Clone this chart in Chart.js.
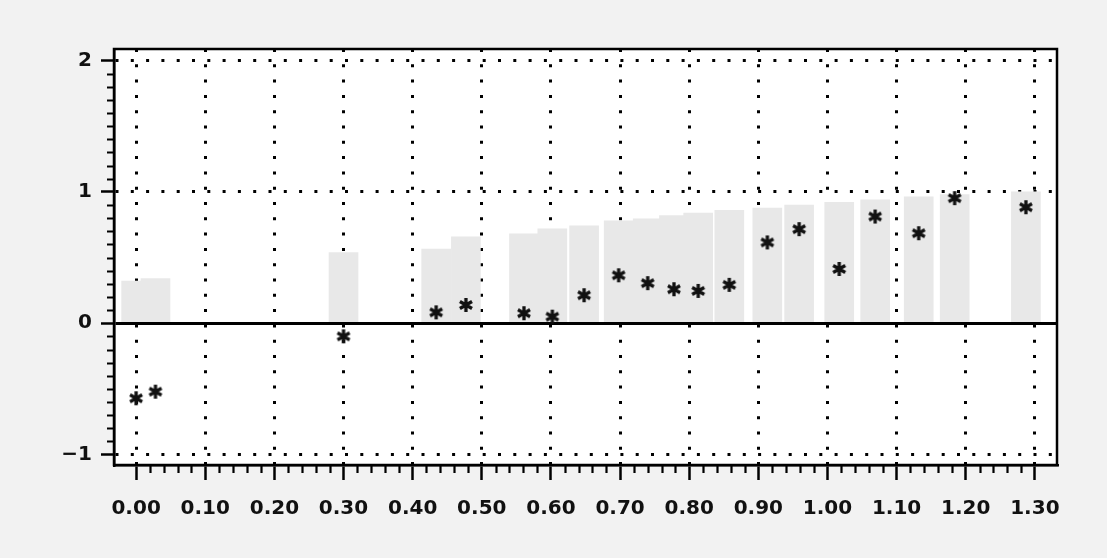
<!DOCTYPE html>
<html>
<head>
<meta charset="utf-8">
<script src="https://cdn.jsdelivr.net/npm/chart.js@4.4.1/dist/chart.umd.min.js"></script>
<style>
  html, body { margin: 0; padding: 0; background: #f2f2f2; }
  #wrap { width: 1107px; height: 558px; position: relative; }
</style>
</head>
<body>
<div id="wrap"><canvas id="chart"></canvas></div>
<script>
// positions on the x axis (one bar and one star per position)
const positions = [0.000, 0.028, 0.300, 0.434, 0.477, 0.561, 0.602, 0.648, 0.698, 0.740,
                   0.778, 0.813, 0.858, 0.913, 0.959, 1.017, 1.069, 1.132, 1.184, 1.287];
// grey bars
const barValues = [0.32, 0.34, 0.538, 0.564, 0.657, 0.68, 0.718, 0.741, 0.779, 0.794,
                   0.82, 0.838, 0.86, 0.877, 0.90, 0.921, 0.939, 0.962, 0.979, 1.00];
// asterisks
const starValues = [-0.571, -0.521, -0.100, 0.083, 0.139, 0.076, 0.050, 0.213, 0.365, 0.305,
                    0.259, 0.246, 0.292, 0.615, 0.716, 0.413, 0.812, 0.685, 0.952, 0.883];

const xTicks = [0, 0.1, 0.2, 0.3, 0.4, 0.5, 0.6, 0.7, 0.8, 0.9, 1.0, 1.1, 1.2, 1.3];
const xTickLabels = ['0.00', '0.10', '0.20', '0.30', '0.40', '0.50', '0.60',
                     '0.70', '0.80', '0.90', '1.00', '1.10', '1.20', '1.30'];
const yTicks = [-1, 0, 1, 2];
const yTickLabels = ['\u22121', '0', '1', '2'];

// asterisk marker (6 arms)
function makeAsterisk(size) {
  const c = document.createElement('canvas');
  c.width = size; c.height = size;
  const g = c.getContext('2d');
  const r = size / 2 - 1;
  g.strokeStyle = '#111';
  g.lineWidth = 3.3;
  g.beginPath();
  for (let k = 0; k < 3; k++) {
    const a = Math.PI / 2 + k * Math.PI / 3;
    g.moveTo(size / 2 + r * Math.cos(a), size / 2 + r * Math.sin(a));
    g.lineTo(size / 2 - r * Math.cos(a), size / 2 - r * Math.sin(a));
  }
  g.stroke();
  return c;
}
const star = makeAsterisk(16);

const dotted = [3, 12.3];

const framePlugin = {
  id: 'frame',
  beforeDraw(chart) {
    const { ctx, chartArea: a } = chart;
    ctx.save();
    ctx.fillStyle = '#ffffff';
    ctx.fillRect(a.left, a.top, a.right - a.left, a.bottom - a.top);
    ctx.restore();
  },
  afterDraw(chart) {
    const { ctx, chartArea: a, scales } = chart;
    ctx.save();
    ctx.strokeStyle = '#000';
    ctx.lineWidth = 2.5;
    ctx.strokeRect(a.left, a.top, a.right - a.left, a.bottom - a.top);
    // minor ticks
    ctx.lineWidth = 2.2;
    ctx.beginPath();
    for (let i = -10; i <= 20; i++) {
      if (i % 10 === 0) continue;
      const y = Math.round(scales.y.getPixelForValue(i / 10)) + 0.5;
      ctx.moveTo(a.left - 7, y);
      ctx.lineTo(a.left, y);
    }
    for (let i = 0; i <= 65; i++) {
      if (i % 5 === 0) continue;
      const x = Math.round(scales.x.getPixelForValue(i / 50)) + 0.5;
      ctx.moveTo(x, a.bottom);
      ctx.lineTo(x, a.bottom + 8);
    }
    ctx.stroke();
    ctx.restore();
  }
};

Chart.defaults.font.family = '"DejaVu Sans", sans-serif';
Chart.defaults.font.size = 20;
Chart.defaults.font.weight = 'bold';
Chart.defaults.color = '#111';

new Chart(document.getElementById('chart'), {
  type: 'bar',
  data: {
    datasets: [
      {
        type: 'scatter',
        label: 'values',
        data: positions.map((x, i) => ({ x: x, y: starValues[i] })),
        pointStyle: star,
        pointRadius: 8,
        order: 0
      },
      {
        type: 'bar',
        label: 'bars',
        data: positions.map((x, i) => ({ x: x, y: barValues[i] })),
        backgroundColor: '#e8e8e8',
        borderWidth: 0,
        barThickness: 29,
        order: 1
      }
    ]
  },
  options: {
    responsive: true,
    maintainAspectRatio: false,
    animation: false,
    layout: { padding: { top: 49, right: 50, left: 0, bottom: 0 } },
    plugins: { legend: { display: false }, tooltip: { enabled: false } },
    scales: {
      x: {
        type: 'linear',
        min: -0.032,
        max: 1.332,
        offset: false,
        afterBuildTicks: s => { s.ticks = xTicks.map(v => ({ value: v })); },
        afterFit: s => { s.height = 93; },
        ticks: {
          autoSkip: false,
          maxRotation: 0,
          padding: 17,
          callback: (v, i) => xTickLabels[i]
        },
        grid: {
          offset: false,
          color: '#000',
          lineWidth: 3,
          tickLength: 15,
          tickWidth: 2.5
        },
        border: { display: true, color: '#000', width: 2.5, dash: dotted }
      },
      y: {
        min: -1.079,
        max: 2.087,
        afterBuildTicks: s => { s.ticks = yTicks.map(v => ({ value: v })); },
        afterFit: s => { s.width = 114; },
        ticks: {
          padding: 9,
          callback: (v, i) => yTickLabels[i]
        },
        grid: {
          color: '#000',
          lineWidth: 3,
          tickLength: 13,
          tickWidth: 2.5
        },
        border: {
          display: true, color: '#000', width: 2.5,
          dash: c => (c.tick && c.tick.value === 0) ? [] : dotted
        }
      }
    }
  },
  plugins: [framePlugin]
});
</script>
</body>
</html>
